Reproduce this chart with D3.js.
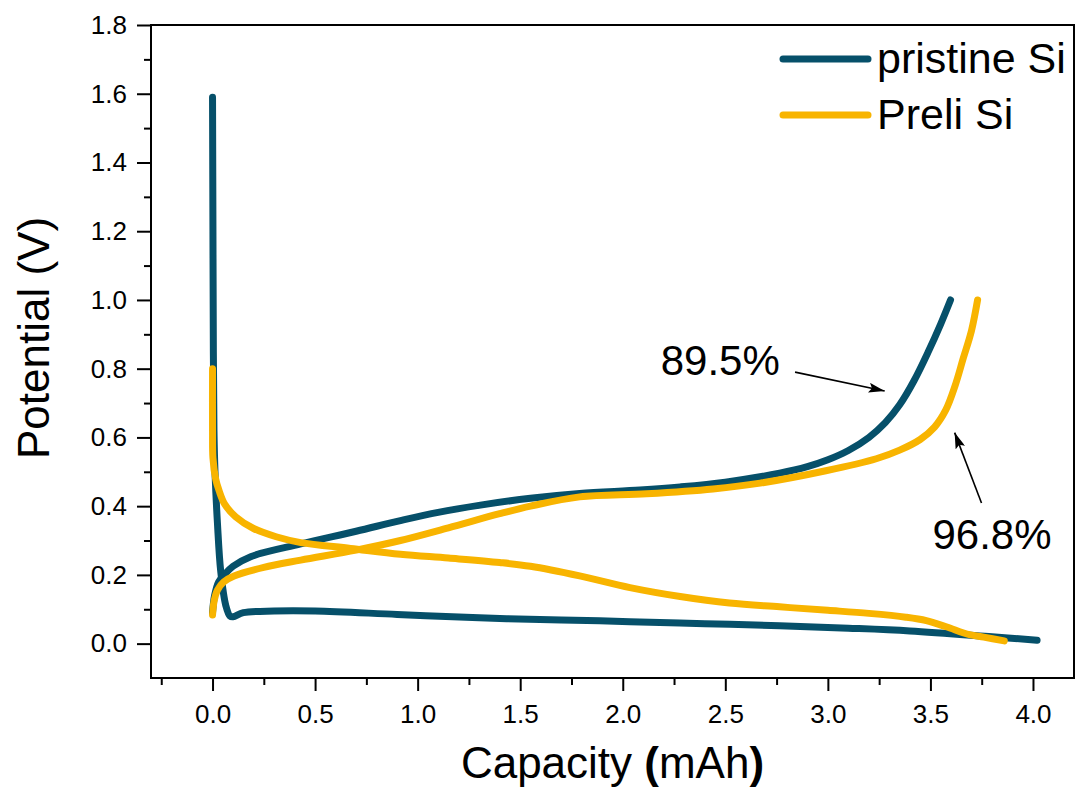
<!DOCTYPE html>
<html>
<head>
<meta charset="utf-8">
<script src="https://cdn.jsdelivr.net/npm/d3@7"></script>
<style>
  html, body { margin: 0; padding: 0; background: #fff; }
  svg { display: block; font-family: Arial, "Liberation Sans", sans-serif; }
</style>
</head>
<body>
<svg id="chart" width="1078" height="800"></svg>
<script>
// Capacity (mAh) / potential (V) pairs for each voltage profile
const pristineDischarge = [
  [0.000, 1.59], [0.002, 1.20], [0.004, 0.85], [0.007, 0.62], [0.012, 0.50],
  [0.024, 0.35], [0.040, 0.21], [0.065, 0.11], [0.085, 0.080], [0.100, 0.078],
  [0.150, 0.090], [0.300, 0.095], [0.500, 0.095], [0.900, 0.085], [1.300, 0.075],
  [1.700, 0.069], [2.035, 0.064], [2.400, 0.058], [2.765, 0.052], [3.100, 0.045],
  [3.400, 0.037], [3.800, 0.020], [4.020, 0.010]
];
const pristineCharge = [
  [0.000, 0.09], [0.010, 0.14], [0.030, 0.18], [0.057, 0.200], [0.100, 0.225],
  [0.186, 0.253], [0.430, 0.290], [0.700, 0.327], [0.916, 0.358], [1.100, 0.382],
  [1.306, 0.403], [1.550, 0.423], [1.790, 0.437], [2.084, 0.447], [2.280, 0.456],
  [2.500, 0.470], [2.765, 0.496], [2.900, 0.515], [3.000, 0.535], [3.100, 0.562],
  [3.200, 0.600], [3.280, 0.643], [3.350, 0.695], [3.420, 0.765], [3.490, 0.850],
  [3.550, 0.930], [3.598, 1.000]
];
const preliDischarge = [
  [0.000, 0.80], [0.000, 0.62], [0.002, 0.54], [0.015, 0.48], [0.032, 0.445],
  [0.060, 0.405], [0.113, 0.369], [0.200, 0.335], [0.310, 0.311], [0.430, 0.294],
  [0.673, 0.277], [0.916, 0.260], [1.150, 0.249], [1.400, 0.236], [1.550, 0.225],
  [1.790, 0.197], [2.035, 0.163], [2.280, 0.137], [2.520, 0.118], [2.765, 0.107],
  [3.000, 0.097], [3.200, 0.088], [3.380, 0.077], [3.480, 0.067], [3.577, 0.049],
  [3.690, 0.026], [3.760, 0.019], [3.860, 0.008]
];
const preliCharge = [
  [0.000, 0.083], [0.008, 0.125], [0.024, 0.156], [0.055, 0.180], [0.105, 0.197],
  [0.250, 0.222], [0.430, 0.243], [0.700, 0.272], [0.916, 0.300], [1.150, 0.337],
  [1.400, 0.378], [1.550, 0.400], [1.790, 0.427], [2.117, 0.436], [2.440, 0.450],
  [2.670, 0.467], [2.990, 0.503], [3.236, 0.538], [3.350, 0.563], [3.450, 0.594],
  [3.520, 0.630], [3.575, 0.680], [3.620, 0.750], [3.660, 0.830], [3.700, 0.910],
  [3.730, 1.000]
];

const seriesNames = ["pristine Si", "Preli Si"];
const seriesColors = ["#06506a", "#f8b400"];

const xMajorTicks = [0, 0.5, 1, 1.5, 2, 2.5, 3, 3.5, 4];
const xMinorTicks = [-0.25, 0.25, 0.75, 1.25, 1.75, 2.25, 2.75, 3.25, 3.75];
const yMajorTicks = [0, 0.2, 0.4, 0.6, 0.8, 1.0, 1.2, 1.4, 1.6, 1.8];
const yMinorTicks = [0.1, 0.3, 0.5, 0.7, 0.9, 1.1, 1.3, 1.5, 1.7];

// Coulombic efficiency callouts: label, text anchor (data), arrow tail and head (data)
const callouts = [
  { text: "89.5%", pos: [2.185, 0.781], tail: [2.84, 0.79], head: [3.277, 0.735] },
  { text: "96.8%", pos: [3.51, 0.275], tail: [3.749, 0.409], head: [3.618, 0.614] }
];

const svg = d3.select("#chart");
const L = 151, R = 1074, T = 25, B = 678;

const x = d3.scaleLinear().domain([-0.3, 4.2]).range([L, R]);
const y = d3.scaleLinear().domain([-0.1, 1.8]).range([B, T]);

// frame
svg.append("rect")
  .attr("x", L).attr("y", T).attr("width", R - L).attr("height", B - T)
  .attr("fill", "none").attr("stroke", "#000").attr("stroke-width", 2);

// axes
const styleAxis = g => {
  g.select(".domain").remove();
  g.selectAll("line").attr("stroke", "#000").attr("stroke-width", 2);
};

svg.append("g").attr("transform", `translate(0,${B})`)
  .call(d3.axisBottom(x).tickValues(xMinorTicks).tickSize(7).tickFormat(""))
  .call(styleAxis);
const xAx = svg.append("g").attr("transform", `translate(0,${B})`)
  .call(d3.axisBottom(x).tickValues(xMajorTicks).tickSize(13).tickPadding(14).tickFormat(d3.format(".1f")))
  .call(styleAxis);
xAx.selectAll("text").attr("font-size", 26).attr("fill", "#000")
  .attr("font-family", 'Arial, "Liberation Sans", sans-serif');

svg.append("g").attr("transform", `translate(${L},0)`)
  .call(d3.axisLeft(y).tickValues(yMinorTicks).tickSize(7).tickFormat(""))
  .call(styleAxis);
const yAx = svg.append("g").attr("transform", `translate(${L},0)`)
  .call(d3.axisLeft(y).tickValues(yMajorTicks).tickSize(14).tickPadding(10).tickFormat(d3.format(".1f")))
  .call(styleAxis);
yAx.selectAll("text").attr("font-size", 26).attr("fill", "#000")
  .attr("font-family", 'Arial, "Liberation Sans", sans-serif');

// axis titles
const xt = svg.append("text")
  .attr("x", (L + R) / 2).attr("y", 778)
  .attr("text-anchor", "middle").attr("font-size", 44).attr("fill", "#000");
xt.append("tspan").text("Capacity ");
xt.append("tspan").attr("font-weight", "bold").text("(");
xt.append("tspan").text("mAh");
xt.append("tspan").attr("font-weight", "bold").text(")");

svg.append("text")
  .attr("transform", "translate(49,338) rotate(-90)")
  .attr("text-anchor", "middle").attr("font-size", 44).attr("fill", "#000")
  .text("Potential (V)");

// voltage curves
const line = d3.line()
  .x(d => x(d[0])).y(d => y(d[1]))
  .curve(d3.curveCatmullRom.alpha(0.5));

const curves = [
  { data: pristineDischarge, color: seriesColors[0] },
  { data: pristineCharge, color: seriesColors[0] },
  { data: preliDischarge, color: seriesColors[1] },
  { data: preliCharge, color: seriesColors[1] }
];
svg.append("g").selectAll("path").data(curves).join("path")
  .attr("d", d => line(d.data))
  .attr("fill", "none")
  .attr("stroke", d => d.color)
  .attr("stroke-width", 7)
  .attr("stroke-linecap", "round")
  .attr("stroke-linejoin", "round");

// legend
const legend = svg.append("g");
seriesNames.forEach((name, i) => {
  const ly = 59 + i * 56;
  legend.append("line")
    .attr("x1", 783).attr("x2", 868).attr("y1", ly).attr("y2", ly)
    .attr("stroke", seriesColors[i]).attr("stroke-width", 7).attr("stroke-linecap", "round");
  legend.append("text")
    .attr("x", 877).attr("y", ly + 14)
    .attr("font-size", 43).attr("fill", "#000").text(name);
});

// arrowhead marker
svg.append("defs").append("marker")
  .attr("id", "arrowhead")
  .attr("viewBox", "0 0 16 10").attr("refX", 16).attr("refY", 5)
  .attr("markerWidth", 16).attr("markerHeight", 10)
  .attr("markerUnits", "userSpaceOnUse")
  .attr("orient", "auto")
  .append("path").attr("d", "M0,0 L16,5 L0,10 L3,5 Z").attr("fill", "#000");

const ann = svg.append("g");
callouts.forEach(c => {
  ann.append("text")
    .attr("x", x(c.pos[0])).attr("y", y(c.pos[1]))
    .attr("font-size", 42).attr("fill", "#000").text(c.text);
  ann.append("line")
    .attr("x1", x(c.tail[0])).attr("y1", y(c.tail[1]))
    .attr("x2", x(c.head[0])).attr("y2", y(c.head[1]))
    .attr("stroke", "#000").attr("stroke-width", 1.6)
    .attr("marker-end", "url(#arrowhead)");
});
</script>
</body>
</html>
